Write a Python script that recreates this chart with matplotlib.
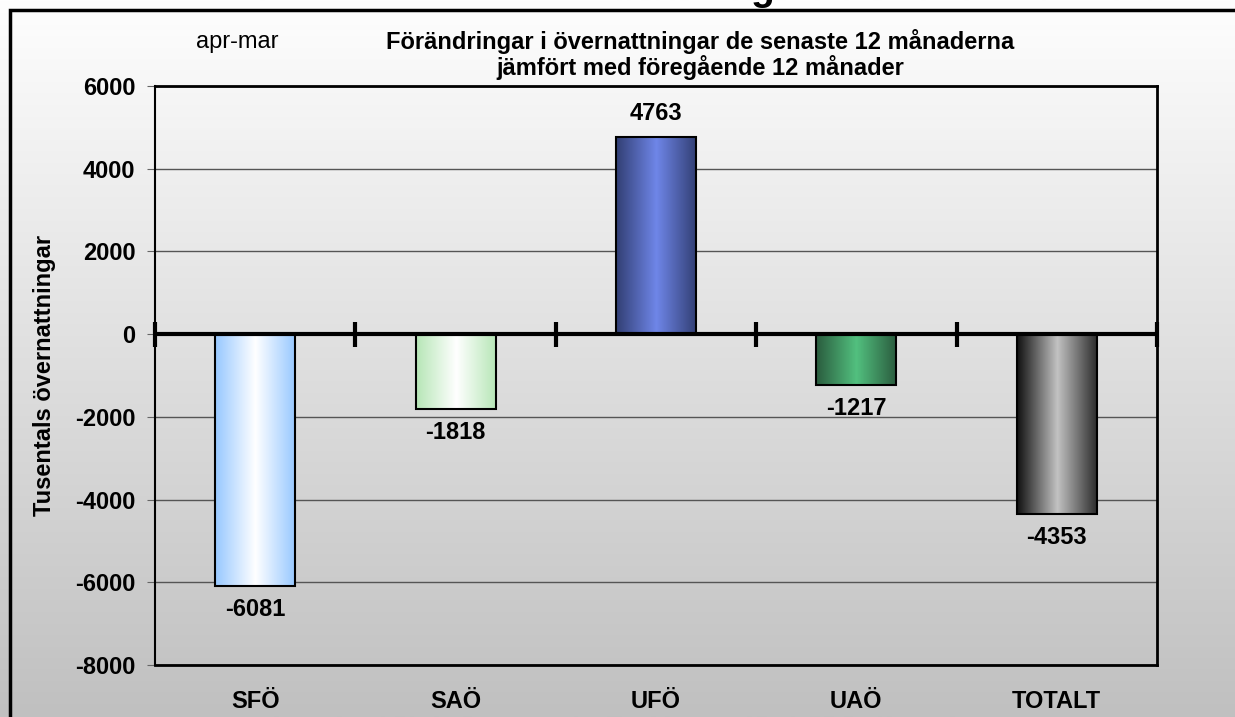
import matplotlib.pyplot as plt
import numpy as np
from matplotlib.colors import LinearSegmentedColormap
from matplotlib.patches import Rectangle

plt.rcParams['font.family'] = ['Liberation Sans', 'DejaVu Sans']

categories = ['SFÖ', 'SAÖ', 'UFÖ', 'UAÖ', 'TOTALT']
values = [-6081, -1818, 4763, -1217, -4353]
# gradient stops across each bar (left edge -> centre -> right edge)
bar_gradients = [
    ['#97c8ff', '#ffffff', '#97c8ff'],
    ['#b6e6b6', '#ffffff', '#b6e6b6'],
    ['#323f74', '#6f86e8', '#323f74'],
    ['#2a5c3e', '#52c07f', '#2a5c3e'],
    ['#111111', '#c2c2c2', '#2a2a2a'],
]
yticks = [-8000, -6000, -4000, -2000, 0, 2000, 4000, 6000]

FS = 17

fig = plt.figure(figsize=(12.35, 7.17), dpi=100)

# background gradient over the whole figure
bg = fig.add_axes([0, 0, 1, 1], zorder=-10)
grad = np.linspace(1, 0, 256).reshape(-1, 1)
bg_cmap = LinearSegmentedColormap.from_list('bg', ['#c0c0c0', '#fefefe'])
bg.imshow(grad, aspect='auto', cmap=bg_cmap, extent=[0, 1, 0, 1], origin='upper')
bg.set_xlim(0, 1)
bg.set_ylim(0, 1)
bg.axis('off')
# outer frame
bg.add_patch(Rectangle((10 / 1235, -0.1), 1.2, 1 - 10 / 717 + 0.1,
                       fill=False, ec='black', lw=2.5))

ax = fig.add_axes([0.1255, 0.0725, 0.8113, 0.8075])
ax.patch.set_alpha(0)

x = np.arange(len(categories))
width = 0.4
bars = ax.bar(x, values, width=width, facecolor='none', edgecolor='black', lw=1.5, zorder=4)

for xi, v, stops in zip(x, values, bar_gradients):
    cmap = LinearSegmentedColormap.from_list('b', stops)
    g = np.linspace(0, 1, 200).reshape(1, -1)
    ax.imshow(g, cmap=cmap, aspect='auto', zorder=3,
              extent=[xi - width / 2, xi + width / 2, min(0, v), max(0, v)])
    off = 17 if v > 0 else -17
    ax.annotate(str(v), (xi, v), xytext=(0, off), textcoords='offset points',
                ha='center', va='center', fontsize=FS, fontweight='bold')

ax.set_xlim(-0.5, len(categories) - 0.5)
ax.set_ylim(-8000, 6000)
ax.set_yticks(yticks)
ax.set_yticklabels([str(t) for t in yticks], fontsize=FS, fontweight='bold')
ax.set_xticks(x)
ax.set_xticklabels(categories, fontsize=FS, fontweight='bold')
ax.tick_params(axis='x', length=0, pad=18)
ax.tick_params(axis='y', length=6, color='#666666', pad=8)
ax.grid(axis='y', color='#555555', lw=1)
ax.set_axisbelow(True)

for s in ['top', 'right', 'bottom']:
    ax.spines[s].set_linewidth(2)
ax.spines['left'].set_linewidth(1.5)

# zero line with crossing ticks
ax.axhline(0, color='black', lw=3, zorder=5)
bounds = np.arange(len(categories) + 1) - 0.5
ax.plot(bounds, np.zeros_like(bounds), ls='none', marker='|', ms=18, mew=3,
        color='black', zorder=6, clip_on=False)

fig.text(45 / 1235, 1 - 375 / 717, 'Tusentals övernattningar', rotation=90,
         ha='center', va='center', fontsize=FS, fontweight='bold')
fig.text(700 / 1235, 1 - 42 / 717, 'Förändringar i övernattningar de senaste 12 månaderna',
         ha='center', va='center', fontsize=FS, fontweight='bold')
fig.text(700 / 1235, 1 - 67 / 717, 'jämfört med föregående 12 månader',
         ha='center', va='center', fontsize=FS, fontweight='bold')
fig.text(237 / 1235, 1 - 42 / 717, 'apr-mar', ha='center', va='center', fontsize=FS)
fig.text(762 / 1235, 1.0, 'g', ha='center', va='baseline', fontsize=28, fontweight='bold')

fig.savefig('out.png', dpi=100)
